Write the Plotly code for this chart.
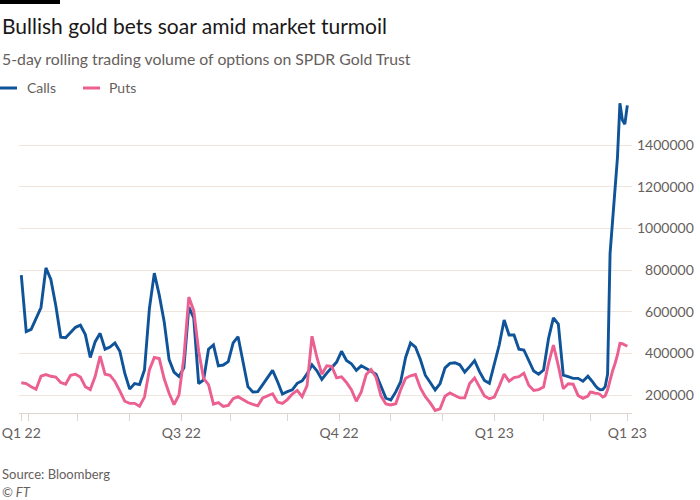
import pandas as pd
import plotly.graph_objects as go

# ---------------- data ----------------
market_holidays = ["2022-04-15", "2022-05-30", "2022-06-20", "2022-07-04", "2022-09-05",
                   "2022-11-24", "2022-12-26", "2023-01-02", "2023-01-16", "2023-02-20"]
sessions = pd.bdate_range("2022-03-29", "2023-03-22", freq="C", holidays=market_holidays)
# values read every second session, then every session for the final weeks
sample_positions = list(range(0, 230, 2)) + list(range(230, 247))
dates = [sessions[k].strftime("%Y-%m-%d") for k in sample_positions]

calls = [
    775000, 504000, 515000, 570000, 620000, 810000, 755000, 630000, 478000, 475000,
    500000, 525000, 535000, 490000, 380000, 456000, 496000, 420000, 430000, 450000,
    410000, 305000, 228000, 255000, 250000, 320000, 615000, 785000, 680000, 552000,
    370000, 310000, 289000, 330000, 622000, 570000, 255000, 272000, 420000, 440000,
    340000, 344000, 360000, 450000, 480000, 350000, 240000, 214000, 216000, 250000,
    282000, 318000, 265000, 205000, 216000, 225000, 256000, 268000, 301000, 345000,
    316000, 275000, 305000, 334000, 358000, 410000, 366000, 350000, 318000, 340000,
    325000, 314000, 300000, 245000, 185000, 176000, 215000, 264000, 380000, 450000,
    430000, 370000, 295000, 260000, 224000, 255000, 330000, 352000, 355000, 345000,
    310000, 336000, 365000, 312000, 270000, 256000, 352000, 440000, 560000, 488000,
    488000, 420000, 416000, 364000, 315000, 300000, 320000, 470000, 570000, 540000,
    295000, 288000, 280000, 280000, 266000,
    290000, 278000, 262000, 245000, 232000, 225000, 226000, 240000, 300000, 880000,
    1030000, 1220000, 1340000, 1600000, 1520000, 1500000, 1590000,
]

puts = [
    259000, 255000, 240000, 228000, 290000, 298000, 290000, 286000, 260000, 252000,
    295000, 300000, 286000, 240000, 226000, 290000, 387000, 300000, 295000, 265000,
    220000, 170000, 160000, 160000, 146000, 190000, 320000, 380000, 375000, 278000,
    208000, 154000, 200000, 380000, 670000, 605000, 410000, 280000, 250000, 156000,
    163000, 145000, 150000, 182000, 192000, 176000, 164000, 155000, 148000, 186000,
    195000, 206000, 166000, 160000, 178000, 205000, 222000, 192000, 245000, 482000,
    380000, 300000, 340000, 338000, 282000, 287000, 260000, 225000, 170000, 215000,
    298000, 322000, 285000, 196000, 157000, 152000, 158000, 225000, 280000, 292000,
    298000, 234000, 192000, 162000, 126000, 134000, 194000, 210000, 198000, 186000,
    186000, 255000, 282000, 240000, 195000, 182000, 190000, 242000, 300000, 266000,
    284000, 288000, 305000, 247000, 222000, 226000, 238000, 350000, 440000, 340000,
    230000, 254000, 252000, 198000, 184000,
    195000, 214000, 212000, 208000, 208000, 202000, 190000, 196000, 225000, 275000,
    315000, 350000, 392000, 448000, 446000, 440000, 434000,
]

tick_dates = ["2022-03-29", "2022-04-01", "2022-05-02", "2022-06-01", "2022-07-01",
              "2022-08-01", "2022-09-01", "2022-10-03", "2022-11-01", "2022-12-01",
              "2023-01-03", "2023-02-01", "2023-03-01", "2023-03-22"]
tick_labels = ["Q1 22", "", "", "", "Q3 22", "", "", "Q4 22", "", "", "Q1 23", "", "", "Q1 23"]

y_ticks = [200000, 400000, 600000, 800000, 1000000, 1200000, 1400000]
y_labels = ["\u2007200000", "\u2007400000", "\u2007600000", "\u2007800000",
            "1000000", "1200000", "1400000"]

# ---------------- style ----------------
BLUE = "#0f5499"
PINK = "#eb5f91"
GREY = "#66605c"
FONT = "Lato"

W, H = 700, 500
L, R, T, B = 19, 68, 100, 87
PW, PH = W - L - R, H - T - B


def px_x(p):
    return (p - L) / PW


def px_y(p):
    return (H - B - p) / PH


fig = go.Figure()
fig.add_trace(go.Scatter(x=dates, y=calls, name="Calls", mode="lines",
                         line=dict(color=BLUE, width=2.9)))
fig.add_trace(go.Scatter(x=dates, y=puts, name="Puts", mode="lines",
                         line=dict(color=PINK, width=2.9)))

fig.update_layout(
    template="none",
    width=W, height=H,
    margin=dict(l=L, r=R, t=T, b=B, autoexpand=False),
    paper_bgcolor="white", plot_bgcolor="white",
    showlegend=False,
    font=dict(family=FONT, color=GREY, size=14),
    xaxis=dict(
        type="date", automargin=False,
        rangebreaks=[dict(bounds=["sat", "mon"]), dict(values=market_holidays)],
        range=["2022-03-28 01:40", "2023-03-23 21:40"],
        tickmode="array", tickvals=tick_dates, ticktext=tick_labels,
        ticks="outside", ticklen=7, tickcolor="#ddd5ce", tickwidth=1,
        showline=True, linecolor="#ddd5ce", linewidth=1,
        showgrid=False, zeroline=False,
        tickfont=dict(family=FONT, size=14, color=GREY),
    ),
    yaxis=dict(
        side="right", automargin=False,
        range=[113600, 1616000],
        tickmode="array", tickvals=y_ticks, ticktext=y_labels,
        ticks="", showline=False, zeroline=False,
        showgrid=True, gridcolor="#efe5dc", gridwidth=1,
        ticklabelstandoff=4,
        tickfont=dict(family=FONT, size=14, color=GREY),
    ),
)

annotations = [
    dict(text="Bullish gold bets soar amid market turmoil", x=px_x(0), y=px_y(25),
         font=dict(family=FONT, size=21, color="#1a1817")),
    dict(text="5-day rolling trading volume of options on SPDR Gold Trust", x=px_x(0), y=px_y(58),
         font=dict(family=FONT, size=15.8, color=GREY)),
    dict(text="Calls", x=px_x(25), y=px_y(88), font=dict(family=FONT, size=14, color=GREY)),
    dict(text="Puts", x=px_x(107), y=px_y(88), font=dict(family=FONT, size=14, color=GREY)),
    dict(text="Source: Bloomberg", x=px_x(0), y=px_y(474), font=dict(family=FONT, size=13, color=GREY)),
    dict(text="<i>© FT</i>", x=px_x(0), y=px_y(492), font=dict(family=FONT, size=13, color=GREY)),
]
for a in annotations:
    fig.add_annotation(xref="paper", yref="paper", xanchor="left", yanchor="middle",
                       showarrow=False, **a)

shapes = [
    dict(type="rect", x0=px_x(0), x1=px_x(60), y0=px_y(0), y1=px_y(4),
         fillcolor="black", line=dict(width=0)),
    dict(type="line", x0=px_x(0), x1=px_x(17), y0=px_y(88), y1=px_y(88),
         line=dict(color=BLUE, width=3)),
    dict(type="line", x0=px_x(83), x1=px_x(100), y0=px_y(88), y1=px_y(88),
         line=dict(color=PINK, width=3)),
]
for s in shapes:
    fig.add_shape(xref="paper", yref="paper", **s)

fig.write_html("out.html", config={"displayModeBar": False},
               post_script="document.body.style.margin='0';")
